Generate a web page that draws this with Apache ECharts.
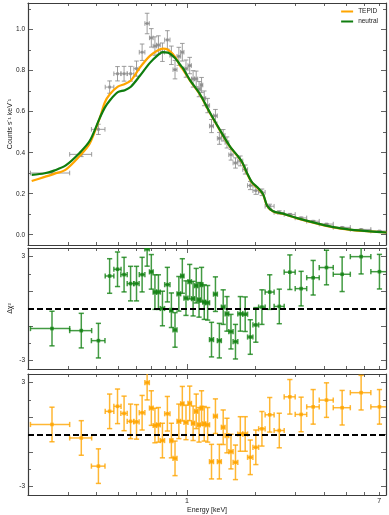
<!DOCTYPE html>
<html>
<head>
<meta charset="utf-8">
<script src="https://cdn.jsdelivr.net/npm/echarts@6/dist/echarts.min.js"></script>
<style>
  html, body { margin: 0; padding: 0; background: #fff; }
  #chart { width: 389px; height: 515px; }
</style>
</head>
<body>
<div id="chart"></div>
<script>
// spectral bins: centre energy and half width (keV)
const energy = [0.255, 0.343, 0.408, 0.457, 0.495, 0.529, 0.565, 0.600, 0.635, 0.668, 0.697, 0.723, 0.749, 0.780, 0.820, 0.854,
  0.886, 0.921, 0.954, 0.990, 1.028, 1.064, 1.098, 1.130, 1.159, 1.191, 1.233, 1.282, 1.334, 1.388, 1.443, 1.499,
  1.561, 1.634, 1.716, 1.803, 1.898, 2.008, 2.136, 2.311, 2.546, 2.833, 3.176, 3.588, 4.106, 4.811, 5.830, 7.019]
const energyErr = [0.050, 0.038, 0.028, 0.020, 0.018, 0.017, 0.019, 0.016, 0.018, 0.015, 0.013, 0.013, 0.014, 0.017, 0.022, 0.013,
  0.018, 0.017, 0.016, 0.020, 0.018, 0.017, 0.017, 0.015, 0.015, 0.018, 0.024, 0.026, 0.026, 0.028, 0.027, 0.028,
  0.034, 0.039, 0.043, 0.044, 0.051, 0.058, 0.070, 0.105, 0.130, 0.158, 0.185, 0.227, 0.291, 0.414, 0.604, 0.585]

// observed rate (counts s^-1 keV^-1) and 1 sigma error
const counts = [0.301, 0.392, 0.514, 0.720, 0.785, 0.785, 0.785, 0.810, 0.890, 1.030, 0.960, 0.920, 0.925, 0.890, 0.950, 0.875,
  0.805, 0.870, 0.890, 0.810, 0.825, 0.760, 0.760, 0.710, 0.730, 0.665, 0.630, 0.530, 0.580, 0.470, 0.485, 0.450,
  0.390, 0.350, 0.360, 0.318, 0.240, 0.215, 0.207, 0.139, 0.109, 0.099, 0.082, 0.066, 0.052, 0.036, 0.026, 0.018]
const countsErr = [0.008, 0.011, 0.025, 0.030, 0.035, 0.036, 0.036, 0.037, 0.040, 0.050, 0.045, 0.045, 0.045, 0.045, 0.045, 0.045,
  0.045, 0.044, 0.043, 0.042, 0.040, 0.040, 0.038, 0.037, 0.037, 0.036, 0.035, 0.032, 0.031, 0.029, 0.028, 0.027,
  0.026, 0.025, 0.024, 0.022, 0.020, 0.018, 0.016, 0.010, 0.008, 0.005, 0.004, 0.0035, 0.003, 0.0025, 0.002, 0.002]

// residuals (data - model) / sigma
const resNeutral = [-1.16, -1.28, -1.86, 1.88, 2.27, 1.96, 1.44, 1.44, 1.96, 3.45, 2.12, 0.95, 0.95, 0.0, 1.38, -0.1,
  -1.24, 0.85, 1.88, 0.6, 1.55, 0.57, 1.32, 0.5, 1.38, 0.37, 0.33, -1.8, 0.83, -1.86, 0.08, -0.31,
  -1.34, -1.92, -0.31, -0.33, -1.65, -0.95, 0.08, 0.95, 0.12, 2.1, 1.15, 1.78, 2.37, 1.98, 3.0, 2.13]
const resTepid = [0.58, -0.2, -1.83, 1.34, 1.63, 1.22, 0.76, 0.73, 1.26, 3.0, 1.53, 0.52, 0.56, -0.35, 1.2, -0.35,
  -1.38, 0.76, 1.78, 0.7, 1.8, 0.65, 1.34, 0.56, 1.53, 0.62, 0.56, -1.57, 1.06, -1.57, 0.42, -0.06,
  -0.99, -1.61, 0.03, 0.03, -1.32, -0.74, 0.33, 1.14, 0.23, 2.18, 1.16, 1.6, 1.99, 1.55, 2.42, 1.6]

// folded model curves
const modelEnergy = [0.2076, 0.2368, 0.2621, 0.2931, 0.3378, 0.3738, 0.4138, 0.4352, 0.4578, 0.4966, 0.5330, 0.5666, 0.6209,
  0.6871, 0.7452, 0.7839, 0.8247, 0.8855, 0.9315, 0.9602, 1.0309, 1.1408, 1.2627, 1.3975, 1.5468, 1.6610, 1.7471,
  1.8380, 1.9334, 2.0549, 2.1617, 2.2510, 2.3929, 2.6485, 3.0520, 3.5900, 4.3975, 5.2251, 6.4010, 7.5270]
const modelNeutral = [0.292, 0.300, 0.314, 0.338, 0.400, 0.458, 0.570, 0.620, 0.655, 0.695, 0.705, 0.722, 0.775,
  0.838, 0.876, 0.890, 0.888, 0.862, 0.830, 0.812, 0.754, 0.685, 0.595, 0.510, 0.430, 0.388, 0.355,
  0.300, 0.255, 0.228, 0.198, 0.142, 0.115, 0.103, 0.081, 0.060, 0.037, 0.025, 0.016, 0.011]
const modelTepid = [0.262, 0.282, 0.298, 0.318, 0.385, 0.445, 0.570, 0.645, 0.685, 0.722, 0.735, 0.752, 0.815,
  0.872, 0.900, 0.908, 0.902, 0.868, 0.825, 0.805, 0.752, 0.683, 0.592, 0.508, 0.428, 0.386, 0.353,
  0.298, 0.253, 0.226, 0.196, 0.140, 0.113, 0.101, 0.080, 0.059, 0.036, 0.024, 0.016, 0.011]

// ticks
const xMajorTicks = [1]
const xMinorTicks = [0.2, 0.3, 0.4, 0.5, 0.6, 0.7, 0.8, 0.9, 2, 3, 4, 5, 6, 7]
const xTickLabels = [1, 7]
const countTicks = [0, 0.2, 0.4, 0.6, 0.8, 1.0]
const countMinorTicks = [0.1, 0.3, 0.5, 0.7, 0.9, 1.1]
const resTicks = [-3, -1, 1, 3]
const resMinorTicks = [-2, 0, 2]
const resTickLabels = [-3, 3]

const ORANGE = '#FFA500'
const GREEN = '#0f7d0f'
const FRAME = '#3c3c3c'
const FONT = 'Liberation Sans'
const lg = Math.log10
const X_MIN = lg(0.2), X_MAX = lg(7.5)

const chart = echarts.init(document.getElementById('chart'), null, { renderer: 'canvas' })

const grids = [
  { left: 28, right: 3, top: 3, height: 242, outerBoundsMode: 'none', containLabel: false },
  { left: 28, right: 3, top: 248, height: 121, outerBoundsMode: 'none', containLabel: false },
  { left: 28, right: 3, top: 374, height: 121, outerBoundsMode: 'none', containLabel: false }
]
const yRanges = [
  { min: -0.05, max: 1.13, major: countTicks, minor: countMinorTicks, labels: countTicks, fmt: v => v.toFixed(1), name: 'Counts s\u207B\u00B9 keV\u207B\u00B9', gap: 14 },
  { min: -3.5, max: 3.5, major: resTicks, minor: resMinorTicks, labels: resTickLabels, fmt: v => String(v), name: '\u0394\u03C7\u00B2', gap: 14 },
  { min: -3.5, max: 3.5, major: resTicks, minor: resMinorTicks, labels: resTickLabels, fmt: v => String(v), name: '', gap: 14 }
]

const xAxis = []
const yAxis = []
grids.forEach((g, i) => {
  const last = i === grids.length - 1
  ;[['bottom', true], ['top', false]].forEach(([pos, isBottom]) => {
    // major ticks + frame line
    xAxis.push({
      type: 'value', gridIndex: i, position: pos, min: X_MIN, max: X_MAX,
      axisLine: { show: true, onZero: false, lineStyle: { color: FRAME, width: 1.2 } },
      axisTick: { show: true, inside: true, length: 5, customValues: xMajorTicks.map(lg), lineStyle: { color: FRAME, width: 0.8 } },
      axisLabel: {
        show: last && isBottom, customValues: xTickLabels.map(lg), margin: 3,
        fontSize: 7, fontFamily: FONT, color: '#222',
        formatter: v => String(Math.round(Math.pow(10, v)))
      },
      splitLine: { show: false },
      name: last && isBottom ? 'Energy [keV]' : '', nameLocation: 'middle', nameGap: 12, nameMoveOverlap: false,
      nameTextStyle: { fontSize: 7, fontFamily: FONT, color: '#222' }
    })
    // minor ticks
    xAxis.push({
      type: 'value', gridIndex: i, position: pos, min: X_MIN, max: X_MAX,
      axisLine: { show: false, onZero: false },
      axisTick: { show: true, inside: true, length: 3, customValues: xMinorTicks.map(lg), lineStyle: { color: FRAME, width: 0.8 } },
      axisLabel: { show: false },
      splitLine: { show: false }
    })
  })
  const r = yRanges[i]
  ;[['left', true], ['right', false]].forEach(([pos, isLeft]) => {
    yAxis.push({
      type: 'value', gridIndex: i, position: pos, min: r.min, max: r.max,
      axisLine: { show: true, onZero: false, lineStyle: { color: FRAME, width: 1.2 } },
      axisTick: { show: true, inside: true, length: 5, customValues: r.major, lineStyle: { color: FRAME, width: 0.8 } },
      axisLabel: {
        show: isLeft, customValues: r.labels, margin: 3,
        fontSize: 6.5, fontFamily: FONT, color: '#222', formatter: r.fmt
      },
      splitLine: { show: false },
      name: isLeft ? r.name : '', nameLocation: 'middle', nameGap: r.gap, nameRotate: 90, nameMoveOverlap: false,
      nameTextStyle: { fontSize: 7, fontFamily: FONT, color: '#222' }
    })
    yAxis.push({
      type: 'value', gridIndex: i, position: pos, min: r.min, max: r.max,
      axisLine: { show: false, onZero: false },
      axisTick: { show: true, inside: true, length: 3, customValues: r.minor, lineStyle: { color: FRAME, width: 0.8 } },
      axisLabel: { show: false },
      splitLine: { show: false }
    })
  })
})

// crosses with end caps and a small box in the middle
function errorBars(color, width, cap, box) {
  return function (params, api) {
    const x = api.value(0), y = api.value(1)
    const c = api.coord([x, y])
    const l = api.coord([api.value(2), y]), h = api.coord([api.value(3), y])
    const b = api.coord([x, api.value(4)]), t = api.coord([x, api.value(5)])
    const st = { stroke: color, lineWidth: width }
    const seg = (x1, y1, x2, y2) => ({ type: 'line', shape: { x1, y1, x2, y2 }, style: st })
    return {
      type: 'group',
      children: [
        seg(l[0], c[1], h[0], c[1]),
        seg(c[0], b[1], c[0], t[1]),
        seg(l[0], c[1] - cap, l[0], c[1] + cap),
        seg(h[0], c[1] - cap, h[0], c[1] + cap),
        seg(c[0] - cap, b[1], c[0] + cap, b[1]),
        seg(c[0] - cap, t[1], c[0] + cap, t[1]),
        { type: 'rect', shape: { x: c[0] - box, y: c[1] - box, width: box * 2, height: box * 2 }, style: { fill: color } }
      ]
    }
  }
}

function binRows(values, errs) {
  return energy.map((e, i) => [
    lg(e), values[i], lg(e - energyErr[i]), lg(e + energyErr[i]),
    values[i] - errs[i], values[i] + errs[i]
  ])
}
const ones = energy.map(() => 1)

const zeroLine = {
  silent: true, symbol: 'none', label: { show: false },
  lineStyle: { color: '#000', type: [6, 3], width: 1.8 },
  data: [{ yAxis: 0 }]
}

chart.setOption({
  animation: false,
  backgroundColor: '#fff',
  grid: grids,
  xAxis, yAxis,
  legend: {
    data: ['TEPID', 'neutral'], orient: 'vertical', right: 6, top: 3,
    itemWidth: 12, itemHeight: 2, itemGap: 3, icon: 'rect',
    textStyle: { fontSize: 6.5, fontFamily: FONT, color: '#222' }
  },
  series: [
    {
      name: 'data', type: 'custom', xAxisIndex: 0, yAxisIndex: 0, clip: true,
      renderItem: errorBars('rgba(140,140,140,0.85)', 1, 2.3, 1.4),
      encode: { x: 0, y: 1 },
      data: binRows(counts, countsErr), z: 2
    },
    {
      name: 'TEPID', type: 'line', xAxisIndex: 0, yAxisIndex: 0, showSymbol: false, smooth: 0.3,
      lineStyle: { color: ORANGE, width: 2.2 }, itemStyle: { color: ORANGE },
      data: modelEnergy.map((e, i) => [lg(e), modelTepid[i]]), z: 3
    },
    {
      name: 'neutral', type: 'line', xAxisIndex: 0, yAxisIndex: 0, showSymbol: false, smooth: 0.3,
      lineStyle: { color: GREEN, width: 2.2 }, itemStyle: { color: GREEN },
      data: modelEnergy.map((e, i) => [lg(e), modelNeutral[i]]), z: 4
    },
    {
      name: 'res neutral', type: 'custom', xAxisIndex: 4, yAxisIndex: 4, clip: true,
      renderItem: errorBars('rgba(20,130,20,0.8)', 1.5, 2.6, 1.8),
      encode: { x: 0, y: 1 },
      data: binRows(resNeutral, ones),
      markLine: zeroLine
    },
    {
      name: 'res TEPID', type: 'custom', xAxisIndex: 8, yAxisIndex: 8, clip: true,
      renderItem: errorBars('rgba(255,165,0,0.8)', 1.5, 2.6, 1.8),
      encode: { x: 0, y: 1 },
      data: binRows(resTepid, ones),
      markLine: zeroLine
    }
  ]
})
</script>
</body>
</html>
